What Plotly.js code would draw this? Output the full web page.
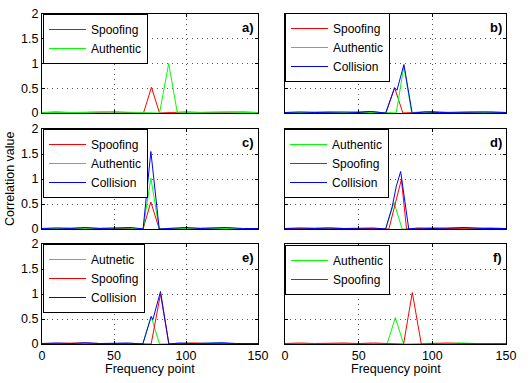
<!DOCTYPE html>
<html>
<head>
<meta charset="utf-8">
<script src="https://cdn.plot.ly/plotly-3.0.1.min.js"></script>
<style>html,body{margin:0;padding:0;background:#fff;}#chart{width:530px;height:383px;}</style>
</head>
<body>
<div id="chart"></div>
<script>
// ---------- data ----------
const tickVals = [0, 50, 100, 150];
const yTickVals = [0, 0.5, 1, 1.5, 2];
const yTickText = ['0', '0.5', '1', '1.5', '2'];
const panelLabels = ['a)', 'b)', 'c)', 'd)', 'e)', 'f)'];

// panel a
const aSpoofingX = [0,10,20,30,40,50,60,70.5,76,81.6,90,100,110,120,130,140,150];
const aSpoofingY = [0.01,0.02,0.01,0.015,0.005,0.02,0.01,0,0.52,0,0.01,0.02,0.01,0.015,0.01,0.02,0.01];
const aAuthenticX = [0,10,20,30,40,50,60,70,81.6,88,94,100,110,120,130,140,150];
const aAuthenticY = [0.01,0.005,0.015,0.01,0.02,0.01,0.015,0.01,0,1.0,0,0.01,0.015,0.005,0.02,0.01,0.01];

// panel b
const bSpoofingX = [0,10,20,30,40,50,58,68.5,74.4,80,90,100,110,120,130,140,150];
const bSpoofingY = [0.01,0.015,0.01,0.02,0.01,0.015,0.03,0,0.51,0,0.01,0.03,0.01,0.015,0.01,0.02,0.01];
const bAuthenticX = [0,10,20,30,40,50,60,70,75.5,80.7,86,95,105,115,125,135,150];
const bAuthenticY = [0.01,0.01,0.015,0.01,0.02,0.01,0.01,0.01,0,0.95,0,0.01,0.015,0.01,0.02,0.01,0.01];
const bCollisionX = [0,10,20,30,40,50,58,68.3,74.4,76,80.7,86.3,95,105,115,125,135,150];
const bCollisionY = [0.01,0.02,0.01,0.015,0.02,0.01,0.03,0,0.51,0.46,0.98,0,0.02,0.01,0.015,0.01,0.02,0.01];

// panel c
const cSpoofingX = [0,10,20,30,40,50,60,70.2,75.6,81.4,90,100,110,120,130,140,150];
const cSpoofingY = [0.01,0.015,0.01,0.02,0.01,0.015,0.01,0,0.54,0,0.01,0.015,0.01,0.02,0.01,0.015,0.01];
const cAuthenticX = [0,10,20,30,40,50,60,70.2,75.6,81.4,90,100,110,120,130,140,150];
const cAuthenticY = [0.01,0.01,0.02,0.01,0.015,0.01,0.02,0,1.02,0,0.015,0.01,0.02,0.01,0.015,0.01,0.01];
const cCollisionX = [0,10,20,30,40,50,62,70.2,75.6,81.4,90,100,110,120,128,140,150];
const cCollisionY = [0.01,0.02,0.01,0.03,0.01,0.015,0.03,0,1.55,0,0.02,0.03,0.01,0.015,0.03,0.01,0.01];

// panel d
const dAuthenticX = [0,10,20,30,40,50,60,68.3,74,79.5,90,100,110,120,130,140,150];
const dAuthenticY = [0.01,0.01,0.015,0.01,0.02,0.01,0.01,0,0.53,0,0.01,0.015,0.01,0.02,0.01,0.01,0.01];
const dSpoofingX = [0,10,20,30,40,50,60,70.5,79,82.5,90,100,110,120,130,140,150];
const dSpoofingY = [0.01,0.015,0.01,0.02,0.01,0.015,0.01,0,0.99,0,0.01,0.02,0.01,0.015,0.01,0.02,0.01];
const dCollisionX = [0,10,20,30,40,50,60,68.3,72.8,75.5,78.5,84,90,100,110,122,135,150];
const dCollisionY = [0.01,0.02,0.01,0.02,0.01,0.015,0.02,0,0.45,0.85,1.15,0,0.02,0.01,0.015,0.03,0.01,0.01];

// panel e
const eAuthenticX = [0,10,20,30,40,50,60,70,75.8,81.6,90,100,110,120,130,140,150];
const eAuthenticY = [0.01,0.01,0.015,0.01,0.02,0.01,0.01,0,0.55,0,0.01,0.015,0.01,0.02,0.01,0.01,0.01];
const eSpoofingX = [0,10,20,30,40,50,60,75.8,82.3,88.1,95,105,115,125,135,150];
const eSpoofingY = [0.01,0.015,0.01,0.02,0.01,0.015,0.01,0,1.0,0,0.01,0.02,0.01,0.015,0.01,0.01];
const eCollisionX = [0,10,20,30,40,50,60,70,75.8,77,82.3,88.1,95,105,115,125,135,150];
const eCollisionY = [0.01,0.02,0.01,0.025,0.01,0.015,0.02,0,0.55,0.49,1.05,0,0.02,0.01,0.015,0.025,0.01,0.01];

// panel f
const fAuthenticX = [0,10,20,30,40,50,60,69.3,74.9,80.5,90,100,110,120,130,140,150];
const fAuthenticY = [0.01,0.01,0.015,0.01,0.02,0.01,0.01,0,0.53,0,0.01,0.015,0.01,0.02,0.01,0.01,0.01];
const fSpoofingX = [0,10,20,30,40,50,60,70,80.5,86.4,92.5,100,110,120,130,140,150];
const fSpoofingY = [0.01,0.02,0.01,0.015,0.02,0.01,0.02,0.01,0,1.03,0,0.01,0.02,0.01,0.015,0.01,0.01];

// ---------- styling ----------
const RED = '#ff0000', GREEN = '#00ff00', BLUE = '#0000ff';
const FONT = 'Liberation Sans, Arial, Helvetica, sans-serif';
const W = 530, H = 383;

const panels = [
  {series: [['Spoofing', aSpoofingX, aSpoofingY, RED], ['Authentic', aAuthenticX, aAuthenticY, GREEN]]},
  {series: [['Spoofing', bSpoofingX, bSpoofingY, RED], ['Authentic', bAuthenticX, bAuthenticY, GREEN], ['Collision', bCollisionX, bCollisionY, BLUE]]},
  {series: [['Spoofing', cSpoofingX, cSpoofingY, RED], ['Authentic', cAuthenticX, cAuthenticY, GREEN], ['Collision', cCollisionX, cCollisionY, BLUE]]},
  {series: [['Authentic', dAuthenticX, dAuthenticY, GREEN], ['Spoofing', dSpoofingX, dSpoofingY, RED], ['Collision', dCollisionX, dCollisionY, BLUE]]},
  {series: [['Autnetic', eAuthenticX, eAuthenticY, GREEN], ['Spoofing', eSpoofingX, eSpoofingY, RED], ['Collision', eCollisionX, eCollisionY, BLUE]]},
  {series: [['Authentic', fAuthenticX, fAuthenticY, GREEN], ['Spoofing', fSpoofingX, fSpoofingY, RED]]}
];

// pixel geometry of the panels
const colX = [[42, 258], [285, 506]];
const rowY = [[14, 113], [129, 229], [244, 344]];
const legendPos = [[43, 14], [285, 13], [43, 129], [284, 129], [43, 244], [285, 245]];

const traces = [];
const layout = {
  width: W, height: H,
  margin: {l: 0, r: 0, t: 0, b: 0},
  paper_bgcolor: '#fff', plot_bgcolor: '#fff',
  font: {family: FONT, size: 12.5, color: '#000'},
  showlegend: true,
  annotations: [],
};

panels.forEach((p, i) => {
  const col = i % 2, row = Math.floor(i / 2);
  const n = i + 1;
  const xa = n === 1 ? 'x' : 'x' + n;
  const ya = n === 1 ? 'y' : 'y' + n;
  const lg = n === 1 ? 'legend' : 'legend' + n;
  p.series.forEach(s => {
    traces.push({
      type: 'scatter', mode: 'lines', name: s[0], x: s[1], y: s[2],
      xaxis: xa, yaxis: ya, legend: lg,
      line: {color: s[3], width: 1}
    });
  });
  const common = {
    showline: true, linecolor: '#000', linewidth: 1, mirror: 'allticks',
    ticks: 'inside', ticklen: 3, tickcolor: '#000', tickwidth: 1,
    showgrid: true, gridcolor: '#555', griddash: '1px,4px', gridwidth: 1,
    zeroline: false, fixedrange: true,
    tickfont: {family: FONT, size: 12.5, color: '#000'}
  };
  layout['xaxis' + (n === 1 ? '' : n)] = Object.assign({}, common, {
    domain: [colX[col][0] / W, colX[col][1] / W],
    range: [0, 150], tickmode: 'array', tickvals: tickVals,
    showticklabels: row === 2, anchor: ya
  });
  layout['yaxis' + (n === 1 ? '' : n)] = Object.assign({}, common, {
    domain: [1 - rowY[row][1] / H, 1 - rowY[row][0] / H],
    range: [0, 2], tickmode: 'array', tickvals: yTickVals, ticktext: yTickText,
    showticklabels: col === 0, anchor: xa
  });
  layout[lg] = {
    x: legendPos[i][0] / W, y: 1 - legendPos[i][1] / H,
    xanchor: 'left', yanchor: 'top',
    bgcolor: '#fff', bordercolor: '#000', borderwidth: 1,
    font: {family: FONT, size: 12, color: '#000'},
    tracegroupgap: 0, itemwidth: 37
  };
  layout.annotations.push({
    text: '<b>' + panelLabels[i] + '</b>', showarrow: false,
    xref: xa + ' domain', yref: ya + ' domain', x: 1, y: 1,
    xanchor: 'right', yanchor: 'top', xshift: -2, yshift: -4,
    font: {family: FONT, size: 13, color: '#000'}
  });
});

// axis titles
layout.annotations.push({
  text: 'Correlation value', showarrow: false, textangle: -90,
  xref: 'paper', yref: 'paper', x: 10 / W, y: 1 - 179 / H,
  xanchor: 'center', yanchor: 'middle',
  font: {family: FONT, size: 12.5, color: '#000'}
});
[0, 1].forEach(col => {
  layout.annotations.push({
    text: 'Frequency point', showarrow: false,
    xref: 'paper', yref: 'paper', x: (colX[col][0] + colX[col][1]) / 2 / W, y: 1 - 369 / H,
    xanchor: 'center', yanchor: 'middle',
    font: {family: FONT, size: 12.5, color: '#000'}
  });
});

Plotly.newPlot('chart', traces, layout, {staticPlot: true, displayModeBar: false});
</script>
</body>
</html>
